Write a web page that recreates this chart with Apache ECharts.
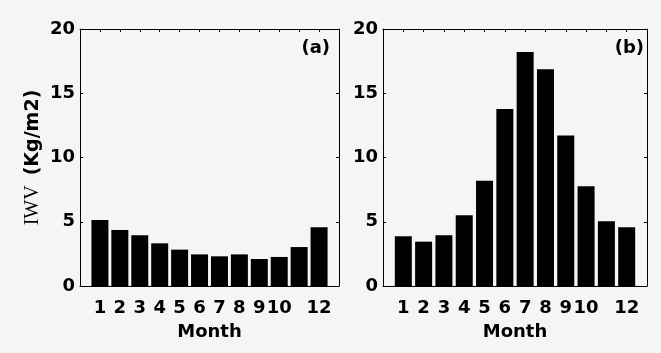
<!DOCTYPE html>
<html>
<head>
<meta charset="utf-8">
<script src="https://cdn.jsdelivr.net/npm/echarts@6/dist/echarts.min.js"></script>
<style>
  html, body { margin: 0; padding: 0; background: #f5f5f5; }
  #chart { width: 661px; height: 353px; }
</style>
</head>
<body>
<div id="chart"></div>
<script>
// Monthly mean integrated water vapour, two stations
var months = [1, 2, 3, 4, 5, 6, 7, 8, 9, 10, 11, 12];
var monthLabels = ['1', '2', '3', '4', '5', '6', '7', '8', '9', '10', '', '12'];
var iwvA = [5.14, 4.36, 3.95, 3.32, 2.83, 2.46, 2.31, 2.46, 2.10, 2.26, 3.03, 4.57];
var iwvB = [3.87, 3.45, 3.95, 5.50, 8.19, 13.77, 18.21, 16.86, 11.72, 7.76, 5.03, 4.57];
var panelTags = ['(a)', '(b)'];
var yTicks = { min: 0, max: 20, interval: 5 };

var FONT = '"DejaVu Sans", sans-serif';
var txt = { color: '#000', fontFamily: FONT, fontWeight: 'bold', fontSize: 18 };

var grids = [
  { left: 80, top: 29, width: 259, height: 257 },
  { left: 383, top: 29, width: 264, height: 257 }
];

var line = { show: true, onZero: false, lineStyle: { color: '#000', width: 1 } };
var tick = { show: true, inside: true, length: 3, lineStyle: { color: '#000', width: 1 } };

function pairs(vals) {
  return months.map(function (m, i) { return [m, vals[i]]; });
}

var xAxes = [], yAxes = [], series = [];
grids.forEach(function (g, k) {
  // bottom axis with month labels
  xAxes.push({
    type: 'value', gridIndex: k, position: 'bottom', min: 0, max: 13, interval: 1,
    name: 'Month', nameLocation: 'middle', nameGap: 37,
    nameTextStyle: txt,
    axisLine: line, axisTick: tick,
    axisLabel: Object.assign({
      margin: 13, showMinLabel: false, showMaxLabel: false,
      formatter: function (v) { return (v >= 1 && v <= 12) ? monthLabels[v - 1] : ''; }
    }, txt),
    splitLine: { show: false }
  });
  // top axis: inward ticks only
  xAxes.push({
    type: 'value', gridIndex: k, position: 'top', min: 0, max: 13, interval: 1,
    axisLine: line, axisTick: tick,
    axisLabel: { show: false }, splitLine: { show: false }
  });
  // left value axis
  yAxes.push({
    type: 'value', gridIndex: k, position: 'left',
    min: yTicks.min, max: yTicks.max, interval: yTicks.interval,
    name: k === 0 ? '{s|IWV}{b|(Kg/m2)}' : '',
    nameLocation: 'middle', nameGap: 37,
    nameTextStyle: {
      rich: {
        s: { fontFamily: '"Liberation Serif", "Times New Roman", serif', fontSize: 20, color: '#000' },
        b: { fontFamily: FONT, fontWeight: 'bold', fontSize: 19, color: '#000', padding: [0, 0, 0, 10] }
      }
    },
    axisLine: line, axisTick: tick,
    axisLabel: Object.assign({ margin: 5 }, txt),
    splitLine: { show: false }
  });
  // right axis: inward ticks only
  yAxes.push({
    type: 'value', gridIndex: k, position: 'right',
    min: yTicks.min, max: yTicks.max, interval: yTicks.interval,
    axisLine: line, axisTick: tick,
    axisLabel: { show: false }, splitLine: { show: false }
  });
  series.push({
    type: 'bar', xAxisIndex: 2 * k, yAxisIndex: 2 * k,
    data: pairs(k === 0 ? iwvA : iwvB),
    barWidth: 17,
    itemStyle: { color: '#000' },
    silent: true
  });
});

var chart = echarts.init(document.getElementById('chart'), null, { renderer: 'canvas' });
chart.setOption({
  backgroundColor: '#f5f5f5',
  animation: false,
  grid: grids,
  title: [
    { text: panelTags[0], right: 661 - 330, top: 39, padding: 0, textStyle: txt },
    { text: panelTags[1], right: 661 - 644, top: 39, padding: 0, textStyle: txt }
  ],
  xAxis: xAxes,
  yAxis: yAxes,
  series: series
});
</script>
</body>
</html>
